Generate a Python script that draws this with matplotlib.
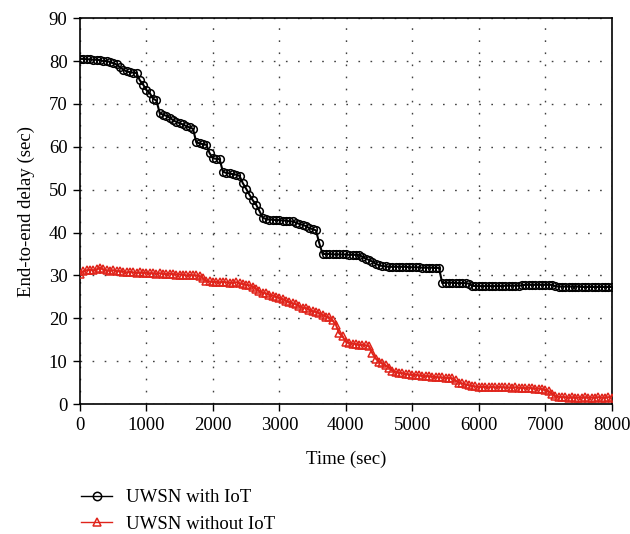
import numpy as np
import matplotlib
matplotlib.use("Agg")
import matplotlib.pyplot as plt

# sample times (sec), one reading every 50 s
time_sec = list(range(0, 8001, 50))

# end-to-end delay (sec)
delay_with_iot = [
    80.5, 80.5, 80.4, 80.4, 80.3, 80.3, 80.2, 80.0, 80.0, 79.8,
    79.5, 79.2, 78.6, 78.0, 77.6, 77.4, 77.3, 77.2, 75.5, 74.5,
    73.2, 72.5, 71.2, 70.8, 67.8, 67.5, 67.2, 66.8, 66.2, 65.8,
    65.5, 65.2, 64.8, 64.5, 64.2, 61.0, 60.8, 60.6, 60.5, 58.5,
    57.3, 57.2, 57.1, 54.2, 53.9, 53.8, 53.6, 53.5, 53.2, 51.5,
    50.2, 48.8, 47.5, 46.5, 45.0, 43.4, 43.2, 43.0, 43.0, 42.9,
    42.9, 42.8, 42.8, 42.6, 42.6, 42.3, 42.0, 41.8, 41.5, 41.0,
    40.8, 40.5, 37.5, 35.0, 35.0, 35.0, 34.9, 34.9, 34.9, 34.9,
    34.9, 34.8, 34.8, 34.8, 34.8, 34.3, 33.9, 33.6, 33.2, 32.7,
    32.4, 32.2, 32.1, 32.0, 32.0, 32.0, 32.0, 32.0, 32.0, 31.9,
    31.9, 31.9, 31.9, 31.8, 31.8, 31.8, 31.8, 31.7, 31.8, 28.2,
    28.3, 28.3, 28.3, 28.2, 28.2, 28.2, 28.2, 28.1, 27.6, 27.5,
    27.5, 27.5, 27.5, 27.5, 27.5, 27.5, 27.5, 27.5, 27.6, 27.6,
    27.6, 27.6, 27.6, 27.7, 27.8, 27.8, 27.8, 27.8, 27.8, 27.8,
    27.8, 27.8, 27.8, 27.5, 27.4, 27.4, 27.4, 27.4, 27.4, 27.4,
    27.4, 27.3, 27.3, 27.3, 27.3, 27.3, 27.3, 27.3, 27.3, 27.3,
    27.3,
]

delay_without_iot = [
    30.4, 31.0, 31.2, 31.3, 31.2, 31.4, 31.8, 31.4, 31.2, 31.1,
    31.2, 31.0, 31.0, 30.9, 30.7, 30.8, 30.7, 30.6, 30.7, 30.6,
    30.6, 30.5, 30.5, 30.4, 30.5, 30.4, 30.3, 30.4, 30.3, 30.2,
    30.2, 30.2, 30.0, 30.1, 30.0, 30.0, 29.9, 29.3, 28.7, 28.6,
    28.5, 28.5, 28.4, 28.5, 28.4, 28.3, 28.3, 28.4, 28.2, 28.0,
    27.8, 27.7, 27.4, 26.8, 26.3, 26.0, 25.8, 25.5, 25.3, 25.0,
    24.8, 24.5, 24.0, 23.8, 23.5, 23.3, 22.8, 22.5, 22.4, 22.0,
    21.7, 21.5, 21.2, 20.8, 20.4, 20.2, 19.5, 18.5, 16.5, 15.8,
    14.5, 14.3, 14.1, 14.0, 13.8, 13.8, 13.7, 13.5, 11.8, 10.6,
    9.8, 9.5, 9.0, 8.5, 7.8, 7.5, 7.3, 7.2, 7.0, 6.9,
    6.8, 6.8, 6.7, 6.6, 6.5, 6.5, 6.4, 6.3, 6.2, 6.2,
    6.1, 6.1, 6.0, 5.5, 5.0, 4.8, 4.6, 4.4, 4.2, 4.1,
    4.0, 4.0, 4.0, 3.9, 4.0, 3.9, 4.0, 3.9, 3.9, 3.9,
    3.8, 3.9, 3.8, 3.8, 3.7, 3.8, 3.7, 3.6, 3.6, 3.5,
    3.3, 3.0, 2.4, 1.8, 1.7, 1.6, 1.6, 1.5, 1.6, 1.5,
    1.5, 1.5, 1.6, 1.5, 1.5, 1.5, 1.6, 1.5, 1.5, 1.6,
    1.5,
]

x_ticks = [0, 1000, 2000, 3000, 4000, 5000, 6000, 7000, 8000]
y_ticks = [0, 10, 20, 30, 40, 50, 60, 70, 80, 90]

plt.rcParams['font.family'] = ['Liberation Serif', 'DejaVu Serif']
plt.rcParams['font.size'] = 13.5

fig = plt.figure(figsize=(6.3, 5.34), dpi=100)
ax = fig.add_axes([0.127, 0.2434, 0.844, 0.7226])

ax.plot(time_sec, delay_with_iot, color='black', lw=1.5, marker='o',
        markersize=5.5, markerfacecolor='none', markeredgewidth=1.1,
        label='UWSN with IoT', zorder=3)
ax.plot(time_sec, delay_without_iot, color='#e0241b', lw=1.5, marker='^',
        markersize=6, markerfacecolor='none', markeredgewidth=1.1,
        label='UWSN without IoT', zorder=3)

ax.set_xlim(0, 8000)
ax.set_ylim(0, 90)
ax.set_xticks(x_ticks)
ax.set_yticks(y_ticks)
ax.tick_params(direction='out', length=5, width=1, colors='black', pad=4)
ax.grid(True, color='0.25', linestyle=(0, (1.2, 7.5)), linewidth=1.0)
for s in ax.spines.values():
    s.set_linewidth(1.2)

ax.set_xlabel('Time (sec)', fontsize=13.5, labelpad=12)
ax.set_ylabel('End-to-end delay (sec)', fontsize=13.5, labelpad=10)

# legend sits under the plot, left aligned with the axes
leg = fig.legend(loc='upper left', bbox_to_anchor=(0.116, 0.098),
                 frameon=False, fontsize=13.5, handlelength=1.7,
                 handletextpad=0.7, labelspacing=0.5, borderaxespad=0)
for h in leg.legend_handles:
    h.set_linewidth(1.0)
    h.set_markersize(6)

fig.savefig('out.png', dpi=100)
